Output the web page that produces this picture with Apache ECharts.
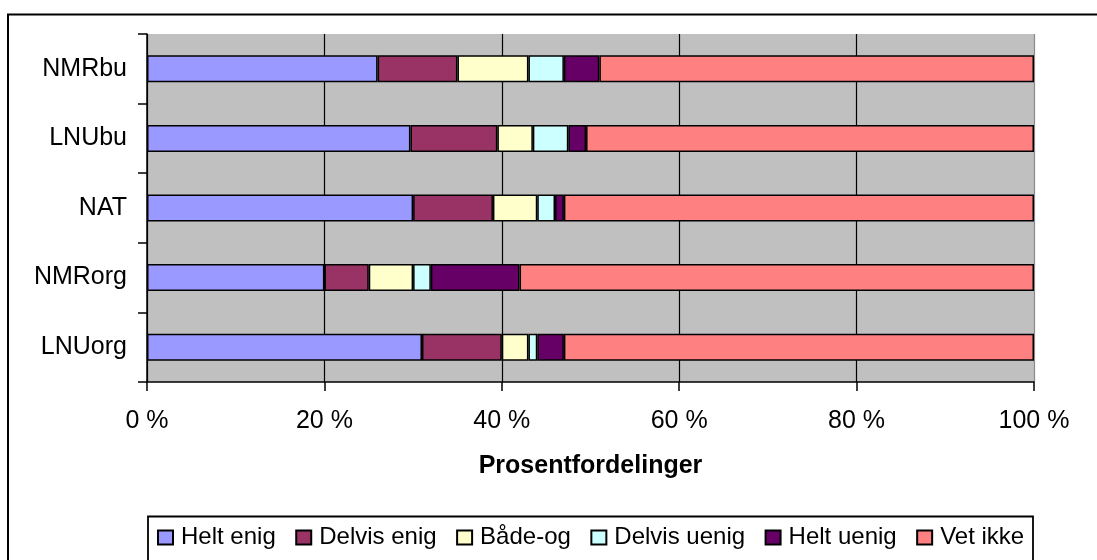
<!DOCTYPE html>
<html>
<head>
<meta charset="utf-8">
<title>Prosentfordelinger</title>
<script src="https://cdn.jsdelivr.net/npm/echarts@6/dist/echarts.min.js"></script>
<style>
  html, body { margin: 0; padding: 0; background: #ffffff; }
  #chart { width: 1097px; height: 560px; }
</style>
</head>
<body>
<div id="chart"></div>
<script>
// Categories listed bottom to top, as the category axis draws them
const categories = ['LNUorg', 'NMRorg', 'NAT', 'LNUbu', 'NMRbu'];

const seriesNames = ['Helt enig', 'Delvis enig', 'Både-og', 'Delvis uenig', 'Helt uenig', 'Vet ikke'];

// Percent shares per category
const heltEnig    = [31, 20, 30, 29.7, 26];
const delvisEnig  = [9, 5, 9, 9.8, 9];
const badeOg      = [3, 5, 5, 4, 8];
const delvisUenig = [1, 2, 2, 4, 4];
const heltUenig   = [3, 10, 1, 2, 4];
const vetIkke     = [53, 58, 53, 50.5, 49];

const xTicks = [0, 20, 40, 60, 80, 100];

const seriesValues = [heltEnig, delvisEnig, badeOg, delvisUenig, heltUenig, vetIkke];
const seriesColors = ['#9999FF', '#993366', '#FFFFCC', '#CCFFFF', '#660066', '#FF8080'];

const FONT = "'Liberation Sans', Arial, sans-serif";

const chart = echarts.init(document.getElementById('chart'), null, { renderer: 'canvas' });

const option = {
  backgroundColor: '#ffffff',
  animation: false,
  textStyle: { fontFamily: FONT, color: '#000' },
  graphic: [
    {
      // outer chart frame
      type: 'rect',
      shape: { x: 8, y: 14.5, width: 1200, height: 600 },
      style: { fill: 'none', stroke: '#000', lineWidth: 2 },
      silent: true,
      z: -1
    },
    {
      // legend frame
      type: 'rect',
      shape: { x: 148, y: 516.5, width: 885, height: 80 },
      style: { fill: '#fff', stroke: '#000', lineWidth: 1.8 },
      silent: true,
      z: 0
    }
  ],
  grid: {
    left: 147,
    right: 63,
    top: 34,
    bottom: 178,
    show: true,
    backgroundColor: '#C0C0C0',
    borderWidth: 0,
    containLabel: false
  },
  legend: {
    data: seriesNames,
    left: 157,
    top: 525.5,
    padding: 0,
    itemWidth: 15,
    itemHeight: 14,
    itemGap: 19.5,
    icon: 'rect',
    textStyle: { fontFamily: FONT, fontSize: 24, color: '#000', padding: [0, 0, 0, 3] },
    z: 5
  },
  xAxis: {
    type: 'value',
    min: xTicks[0],
    max: xTicks[xTicks.length - 1],
    interval: 20,
    name: 'Prosentfordelinger',
    nameLocation: 'middle',
    nameGap: 72,
    nameTextStyle: { fontFamily: FONT, fontSize: 25, fontWeight: 'bold', color: '#000' },
    axisLine: { show: true, lineStyle: { color: '#000', width: 1.5 } },
    axisTick: { show: true, length: 9, inside: false, lineStyle: { color: '#000', width: 1.5 } },
    axisLabel: {
      fontFamily: FONT, fontSize: 25, color: '#000', margin: 27,
      formatter: v => v + ' %'
    },
    splitLine: {
      show: true,
      lineStyle: { color: ['#000', '#000', '#000', '#000', '#000', '#8a8a8a'], width: 1.2 }
    }
  },
  yAxis: {
    type: 'category',
    data: categories,
    axisLine: { show: true, lineStyle: { color: '#000', width: 1.5 } },
    axisTick: { show: true, length: 9, inside: false, alignWithLabel: false, lineStyle: { color: '#000', width: 1.5 } },
    axisLabel: { fontFamily: FONT, fontSize: 25, color: '#000', margin: 20 },
    splitLine: { show: false }
  },
  series: seriesNames.map((name, i) => ({
    name: name,
    type: 'bar',
    stack: 'total',
    barWidth: 27,
    data: seriesValues[i],
    itemStyle: { color: seriesColors[i], borderColor: '#000', borderWidth: 1.5 },
    emphasis: { disabled: true }
  }))
};

chart.setOption(option);
</script>
</body>
</html>
